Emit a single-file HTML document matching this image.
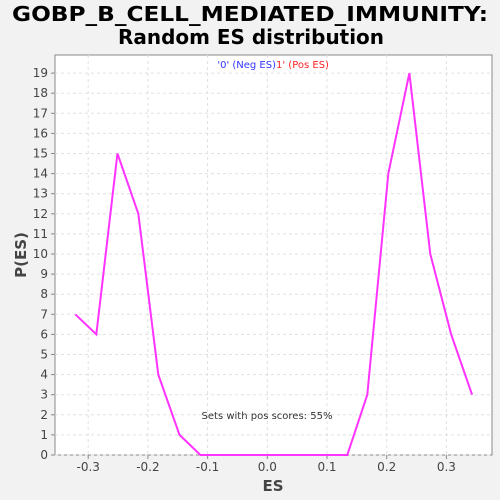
<!DOCTYPE html>
<html><head><style>
body{margin:0;background:#f2f2f2;}
svg{display:block;font-family:"DejaVu Sans","Liberation Sans",sans-serif;}
</style></head><body>
<svg id="chart" width="500" height="500">
<rect width="500" height="500" fill="#f2f2f2"/>
<text x="250" y="21" text-anchor="middle" font-size="20" font-weight="bold" fill="#000" textLength="476" lengthAdjust="spacingAndGlyphs">GOBP_B_CELL_MEDIATED_IMMUNITY:</text>
<text x="251" y="44" text-anchor="middle" font-size="20" font-weight="bold" fill="#000" textLength="266" lengthAdjust="spacingAndGlyphs">Random ES distribution</text>
<rect x="55" y="55" width="437" height="400" fill="#fff" stroke="#888"/>
<g id="grid"></g><g id="axes"></g>
<text x="273" y="491" text-anchor="middle" font-size="15" font-weight="bold" fill="#444">ES</text>
<text transform="translate(26,255) rotate(-90)" text-anchor="middle" font-size="15" font-weight="bold" fill="#444">P(ES)</text>
<text x="276" y="68" text-anchor="end" font-size="10" fill="#3333ff">'0' (Neg ES)</text>
<text x="276" y="68" font-size="10" fill="#ff2222">1' (Pos ES)</text>
<text x="267" y="419" text-anchor="middle" font-size="10" fill="#333">Sets with pos scores: 55%</text>
<polyline id="line" fill="none" stroke="#ff33ff" stroke-width="2"/>
</svg>
<script>
const xValues=[-0.3216,-0.2864,-0.251,-0.216,-0.1826,-0.147,-0.112,-0.077,-0.042,-0.007,0.028,0.063,0.098,0.134,0.1675,0.2027,0.238,0.273,0.308,0.343];
const yValues=[7,6,15,12,4,1,0,0,0,0,0,0,0,0,3,14,19,10,6,3];
const xTicks=[-0.3,-0.2,-0.1,0.0,0.1,0.2,0.3];
const xTickLabels=["-0.3","-0.2","-0.1","0.0","0.1","0.2","0.3"];
const yTicks=[0,1,2,3,4,5,6,7,8,9,10,11,12,13,14,15,16,17,18,19];
const X=v=>267.3+v*597, Y=v=>455-v*20.1;
const ns="http://www.w3.org/2000/svg";
const grid=document.getElementById('grid'), axes=document.getElementById('axes');
function mk(tag,attrs,parent){const e=document.createElementNS(ns,tag);for(const k in attrs)e.setAttribute(k,attrs[k]);parent.appendChild(e);return e;}
xTicks.forEach((t,i)=>{
 const l=mk('line',{x1:X(t),x2:X(t),y1:55,y2:455,stroke:'#e0e0e0','stroke-dasharray':'3,3'},grid);
 
 
 mk('line',{x1:X(t),x2:X(t),y1:455,y2:459,stroke:'#888'},axes);
 const tx=mk('text',{x:X(t),y:471,'text-anchor':'middle','font-size':'12',fill:'#444'},axes);
 tx.textContent=xTickLabels[i];
 
 
});
yTicks.forEach(t=>{
 const l=mk('line',{x1:55,x2:492,y1:Y(t),y2:Y(t),stroke:'#e0e0e0','stroke-dasharray':'3,3'},grid);
 
 
 mk('line',{x1:51,x2:55,y1:Y(t),y2:Y(t),stroke:'#888'},axes);
 const tx=mk('text',{x:48,y:Y(t)+4,'text-anchor':'end','font-size':'12',fill:'#444'},axes);
 tx.textContent=t;
 
 
});
document.getElementById('line').setAttribute('points',xValues.map((x,i)=>X(x)+','+Y(yValues[i])).join(' '));
</script>
</body></html>
